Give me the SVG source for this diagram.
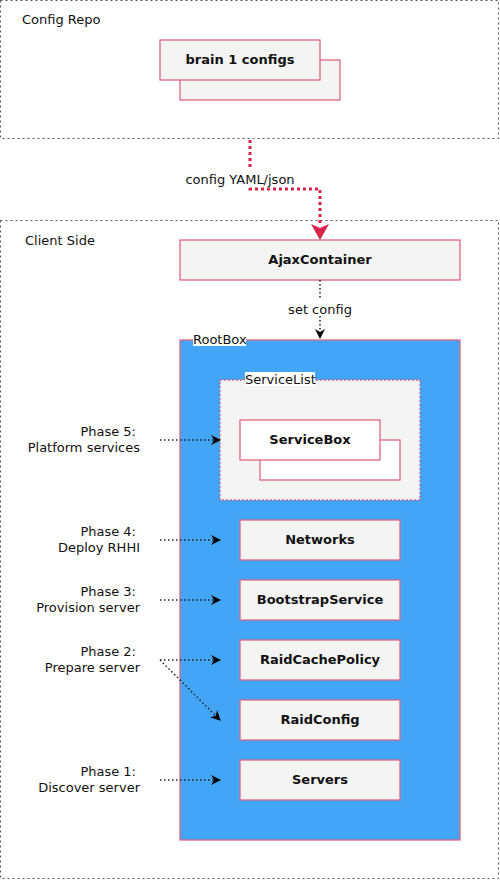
<svg xmlns="http://www.w3.org/2000/svg" width="500" height="880" viewBox="0 0 500 880">
<defs>
<style>
text{font-family:"DejaVu Sans","Noto Sans",sans-serif;font-size:13px;fill:#111}
.b{font-weight:bold;text-anchor:middle}
.lbl{text-anchor:middle}
.ph{text-anchor:end}
.grp{fill:#fff;stroke:#555;stroke-dasharray:2,3;stroke-width:1}
.box{fill:#f4f4f4;stroke:#de6580;stroke-width:1.3}
.wbox{fill:#fff;stroke:#de6580;stroke-width:1.3}
.dot{fill:none;stroke:#222;stroke-width:1.5;stroke-dasharray:1.5,2.5}
.red{fill:none;stroke:#d6234a;stroke-width:3;stroke-dasharray:3,3}
</style>
<marker id="ah" viewBox="0 0 10 10" refX="9" refY="5" markerWidth="10" markerHeight="10" markerUnits="userSpaceOnUse" orient="auto">
<path d="M0,0 L10,5 L0,10 L3,5 Z" fill="#000"/>
</marker>
</defs>
<g id="config-repo">
<rect class="grp" x="0.5" y="0.5" width="498" height="138"/>
<text x="22" y="24">Config Repo</text>
</g>
<g id="brain-configs">
<rect class="box" x="180" y="60" width="160" height="40"/>
<rect class="box" x="160" y="40" width="160" height="40"/>
<text class="b" x="240" y="64">brain 1 configs</text>
</g>
<g id="client-side">
<rect class="grp" x="0.5" y="220.5" width="498" height="658"/>
<text x="25" y="245">Client Side</text>
</g>
<g id="ajax-container">
<rect class="box" x="180" y="240" width="280" height="40"/>
<text class="b" x="320" y="264">AjaxContainer</text>
</g>
<g id="rootbox">
<rect x="180" y="340" width="280" height="500" fill="#42a5f5" stroke="#de6580" stroke-width="1.3"/>
<rect x="193" y="332" width="53" height="14" fill="#fff"/>
<text x="193" y="344">RootBox</text>
</g>
<g id="servicelist">
<rect x="220" y="380" width="200" height="120" fill="#f4f4f4" stroke="#de6580" stroke-width="1.3" stroke-dasharray="2,2"/>
<rect x="245" y="372" width="70" height="14" fill="#fff"/>
<text x="245" y="384">ServiceList</text>
</g>
<g id="servicebox">
<rect class="wbox" x="260" y="440" width="140" height="40"/>
<rect class="wbox" x="240" y="420" width="140" height="40"/>
<text class="b" x="310" y="444">ServiceBox</text>
</g>
<g id="networks">
<rect class="box" x="240" y="520" width="160" height="40"/>
<text class="b" x="320" y="544">Networks</text>
</g>
<g id="bootstrapservice">
<rect class="box" x="240" y="580" width="160" height="40"/>
<text class="b" x="320" y="604">BootstrapService</text>
</g>
<g id="raidcachepolicy">
<rect class="box" x="240" y="640" width="160" height="40"/>
<text class="b" x="320" y="664">RaidCachePolicy</text>
</g>
<g id="raidconfig">
<rect class="box" x="240" y="700" width="160" height="40"/>
<text class="b" x="320" y="724">RaidConfig</text>
</g>
<g id="servers">
<rect class="box" x="240" y="760" width="160" height="40"/>
<text class="b" x="320" y="784">Servers</text>
</g>
<g id="phase-labels">
<text class="ph" x="136" y="436">Phase 5:</text>
<text class="ph" x="140" y="452">Platform services</text>
<text class="ph" x="136" y="536">Phase 4:</text>
<text class="ph" x="140" y="552">Deploy RHHI</text>
<text class="ph" x="136" y="596">Phase 3:</text>
<text class="ph" x="140" y="612">Provision server</text>
<text class="ph" x="136" y="656">Phase 2:</text>
<text class="ph" x="140" y="672">Prepare server</text>
<text class="ph" x="136" y="776">Phase 1:</text>
<text class="ph" x="140" y="792">Discover server</text>
</g>
<g id="connectors">
<path class="red" d="M250,140 V189 H320 V226"/>
<path d="M311,224 L320,240 L329,224 L320,228 Z" fill="#d6234a"/>
<rect x="186" y="170" width="110" height="16" fill="#fff"/>
<text class="lbl" x="240" y="184">config YAML/json</text>
<path class="dot" d="M320,280 V338" marker-end="url(#ah)"/>
<rect x="288" y="300" width="64" height="16" fill="#fff"/>
<text class="lbl" x="320" y="314">set config</text>
<path class="dot" d="M160,440 H220" marker-end="url(#ah)"/>
<path class="dot" d="M160,540 H220" marker-end="url(#ah)"/>
<path class="dot" d="M160,600 H220" marker-end="url(#ah)"/>
<path class="dot" d="M160,660 H220" marker-end="url(#ah)"/>
<path class="dot" d="M160,660 L220,720" marker-end="url(#ah)"/>
<path class="dot" d="M160,780 H220" marker-end="url(#ah)"/>
</g>
</svg>
